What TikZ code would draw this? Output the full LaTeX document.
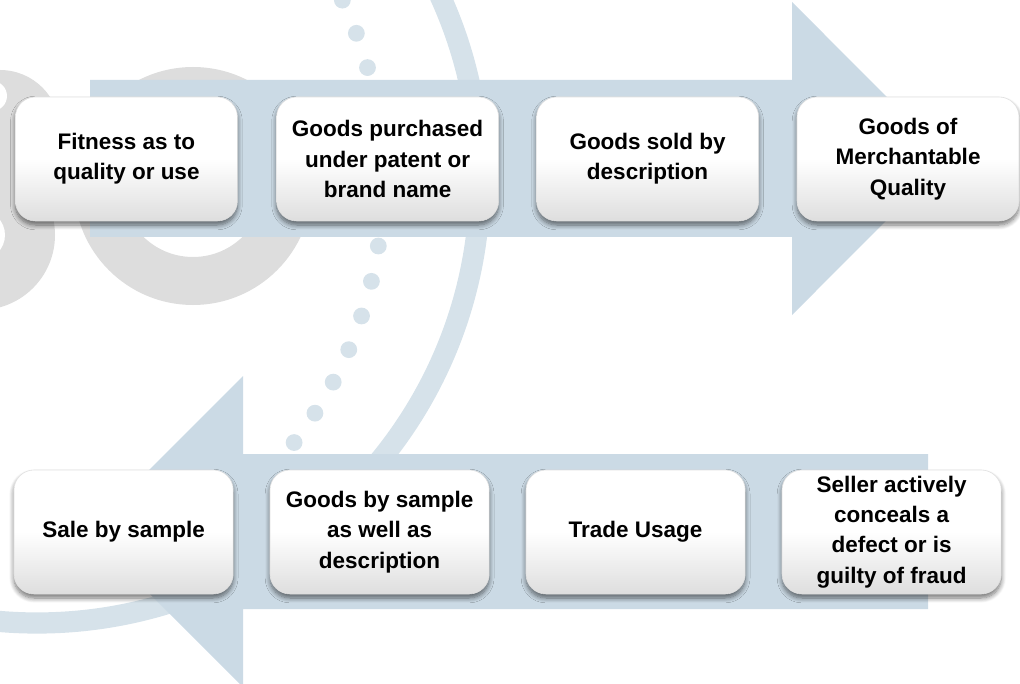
\documentclass[tikz,border=0pt]{standalone}
\usepackage{fontspec}
\setmainfont{Liberation Sans}
\usetikzlibrary{shadows.blur}
\definecolor{arrowblue}{HTML}{CBDAE5}
\definecolor{ringblue}{HTML}{D6E2EA}
\definecolor{markgrey}{HTML}{DDDDDD}
\tikzset{
  cond/.style={rectangle, rounded corners=0.5cm, draw=black!12,
    top color=white, bottom color=black!13, middle color=white,
    blur shadow={shadow xshift=0pt, shadow yshift=-0.1cm, shadow blur radius=0.12cm,
      shadow blur steps=8, shadow opacity=55},
    minimum width=5.55cm, minimum height=3.1cm, inner sep=0pt, align=center,
    font=\bfseries\fontsize{16}{21.5}\selectfont}
}
\begin{document}
\begin{tikzpicture}
    \useasboundingbox (0,0) rectangle (25.5,-17.1);

    \begin{scope}
        \clip (0,0) rectangle (25.5,-17.1);
        \fill[markgrey] (0,-3.25) circle (1.5);
        \fill[markgrey] (-0.5,-5.875) circle (1.875);
        \fill[white] (-0.2,-2.4) circle (0.375);
        \fill[white] (-0.5,-5.875) circle (0.625);
        \draw[markgrey, line width=1.2cm] (4.825,-4.65) circle (2.375);
        \draw[ringblue, line width=0.53cm] (0.925,-4.5) circle (11.075);
        \foreach \a in {-1,...,16}
            \fill[ringblue] ({-1.06+10.64*cos(25.3-4.85*\a)}, {-4.55+10.64*sin(25.3-4.85*\a)}) circle (0.21);
    \end{scope}

    \fill[arrowblue] (2.25,-2) -- (19.8,-2) -- (19.8,-0.05) -- (23.71,-3.9625)
        -- (19.8,-7.875) -- (19.8,-5.925) -- (2.25,-5.925) -- cycle;
    \fill[arrowblue] (23.2,-11.35) -- (6.075,-11.35) -- (6.075,-9.4) -- (2.1875,-13.2875)
        -- (6.075,-17.175) -- (6.075,-15.225) -- (23.2,-15.225) -- cycle;

    \node[cond] (U_1) at (3.16,-3.975) {Fitness as to\\quality or use};
    \node[cond] (U_2) at (9.69,-3.975) {Goods purchased\\under patent or\\brand name};
    \node[cond] (U_3) at (16.19,-3.975) {Goods sold by\\description};
    \node[cond] (U_4) at (22.7,-3.975) {Goods of\\Merchantable\\Quality};

    \node[cond, minimum width=5.48cm] (D_1) at (3.09,-13.3) {Sale by sample};
    \node[cond, minimum width=5.48cm] (D_2) at (9.49,-13.3) {Goods by sample\\as well as\\description};
    \node[cond, minimum width=5.48cm] (D_3) at (15.89,-13.3) {Trade Usage};
    \node[cond, minimum width=5.48cm] (D_4) at (22.29,-13.3) {Seller actively\\conceals a\\defect or is\\guilty of fraud};
\end{tikzpicture}
\end{document}
